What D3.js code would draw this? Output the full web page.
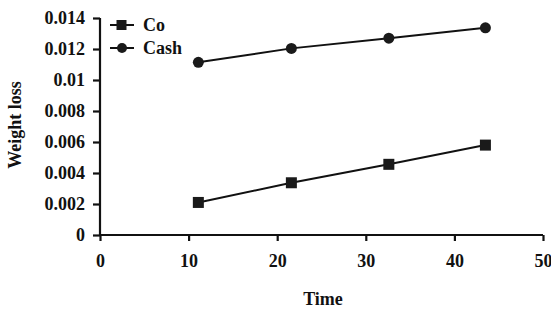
<!DOCTYPE html>
<html>
<head>
<meta charset="utf-8">
<script src="https://cdn.jsdelivr.net/npm/d3@7"></script>
<style>
  body { margin: 0; background: #fff; }
  svg { display: block; font-family: "Liberation Serif", "Times New Roman", serif; font-weight: bold; }
</style>
</head>
<body>
<svg></svg>
<script>
// chart data
const times = [11.1, 21.6, 32.6, 43.5]
const coValues = [0.0021, 0.00337, 0.00456, 0.0058]
const cashValues = [0.01114, 0.01204, 0.0127, 0.01337]
const xTicks = [0, 10, 20, 30, 40, 50]
const yTicks = [0, 0.002, 0.004, 0.006, 0.008, 0.01, 0.012, 0.014]
const seriesNames = ['Co', 'Cash']

const width = 551
const height = 309
const fontSize = 18

let svg = d3.select('svg').attr('width', width).attr('height', height)

let xScale = d3.scaleLinear().domain([0, 50]).range([100, 543])
let yScale = d3.scaleLinear().domain([0, 0.014]).range([235, 18])

function fmtY(d) {
    if (d === 0) return '0'
    return d3.format('.3f')(d).replace(/0+$/, '')
}

// axes
let xAxis = d3.axisBottom(xScale).tickValues(xTicks).tickSize(6).tickPadding(13).tickFormat(d3.format('d'))
let yAxis = d3.axisLeft(yScale).tickValues(yTicks).tickSize(7).tickPadding(8).tickFormat(fmtY)

let gx = svg.append('g')
    .attr('transform', 'translate(0,' + yScale(0) + ')')
    .call(xAxis)
let gy = svg.append('g')
    .attr('transform', 'translate(' + xScale(0) + ',0)')
    .call(yAxis)

;[gx, gy].forEach(g => {
    g.select('.domain').attr('stroke', '#111').attr('stroke-width', 2.2)
    g.selectAll('.tick line').attr('stroke', '#111').attr('stroke-width', 2.2)
    g.selectAll('.tick text')
        .attr('fill', '#111')
        .style('font-family', '"Liberation Serif", serif')
        .style('font-weight', 'bold')
        .style('font-size', fontSize + 'px')
})
gy.select('.domain').attr('d', 'M0,' + yScale(0.014) + 'V' + yScale(0))
gx.select('.domain').attr('d', 'M' + xScale(0) + ',0H' + xScale(50))

// axis titles
svg.append('text')
    .attr('x', 323).attr('y', 305)
    .attr('text-anchor', 'middle')
    .attr('font-size', fontSize)
    .attr('fill', '#111')
    .text('Time')

svg.append('text')
    .attr('transform', 'translate(21,125) rotate(-90)')
    .attr('text-anchor', 'middle')
    .attr('font-size', fontSize)
    .attr('fill', '#111')
    .text('Weight loss')

// lines
let line = d3.line().x((d, i) => xScale(times[i])).y(d => yScale(d))

svg.append('path').datum(coValues)
    .attr('d', line).attr('fill', 'none').attr('stroke', '#111').attr('stroke-width', 2)
svg.append('path').datum(cashValues)
    .attr('d', line).attr('fill', 'none').attr('stroke', '#111').attr('stroke-width', 2)

svg.selectAll('.co').data(coValues).enter().append('rect')
    .attr('class', 'co')
    .attr('x', (d, i) => xScale(times[i]) - 5.5)
    .attr('y', d => yScale(d) - 5.5)
    .attr('width', 11).attr('height', 11)
    .attr('fill', '#1a1a1a')

svg.selectAll('.cash').data(cashValues).enter().append('circle')
    .attr('class', 'cash')
    .attr('cx', (d, i) => xScale(times[i]))
    .attr('cy', d => yScale(d))
    .attr('r', 5.5)
    .attr('fill', '#1a1a1a')

// legend
let legend = svg.append('g')
seriesNames.forEach((name, i) => {
    let y = 25 + i * 23
    legend.append('line').attr('x1', 110).attr('x2', 134).attr('y1', y).attr('y2', y)
        .attr('stroke', '#111').attr('stroke-width', 2)
    if (i === 0) {
        legend.append('rect').attr('x', 116.5).attr('y', y - 5).attr('width', 10).attr('height', 10).attr('fill', '#1a1a1a')
    } else {
        legend.append('circle').attr('cx', 122).attr('cy', y).attr('r', 5).attr('fill', '#1a1a1a')
    }
    legend.append('text').attr('x', 143).attr('y', y + 6)
        .attr('font-size', fontSize).attr('fill', '#111').text(name)
})
</script>
</body>
</html>
